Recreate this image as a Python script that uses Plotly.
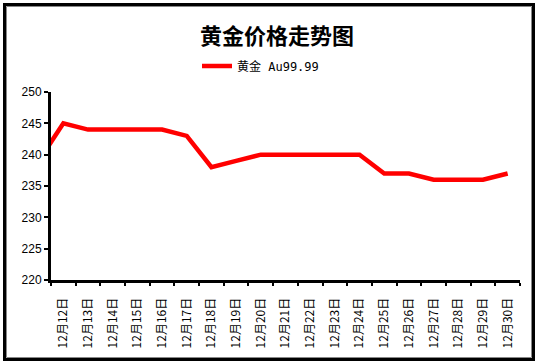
import plotly.graph_objects as go

# ---- data ----
categories = ["12月11日", "12月12日", "12月13日", "12月14日", "12月15日", "12月16日",
              "12月17日", "12月18日", "12月19日", "12月20日", "12月21日", "12月22日",
              "12月23日", "12月24日", "12月25日", "12月26日", "12月27日", "12月28日",
              "12月29日", "12月30日"]
prices = [239, 245, 244, 244, 244, 244, 243, 238, 239, 240, 240, 240, 240, 240,
          237, 237, 236, 236, 236, 237]
shown_labels = categories[1:]
y_ticks = [220, 225, 230, 235, 240, 245, 250]
series_name = "黄金 Au99.99"
title_text = "黄金价格走势图"

W, H = 538, 362
L, R, T, B = 51, 18, 92, 82
pw, ph = W - L - R, H - T - B

def px_x(p):
    return (p - L) / pw

def px_y(p):
    return (H - B - p) / ph

xs = list(range(-1, len(categories) - 1))

fig = go.Figure()
fig.add_trace(go.Scatter(
    x=xs, y=prices, mode="lines", name=series_name,
    line=dict(color="#FF0000", width=4.5), cliponaxis=True,
))

fig.update_layout(
    width=W, height=H,
    margin=dict(l=L, r=R, t=T, b=B, pad=0, autoexpand=False),
    paper_bgcolor="white", plot_bgcolor="white",
    title=dict(text="<b>" + title_text + "</b>", x=277 / W, xanchor="center",
               y=1 - 36 / H, yanchor="middle",
               font=dict(family="Noto Sans CJK SC", size=22, color="black")),
    showlegend=True,
    legend=dict(orientation="h", x=px_x(197), xanchor="left", y=px_y(66), yanchor="middle",
                font=dict(family="DejaVu Sans Mono, Noto Sans CJK SC", size=12, color="black"),
                bgcolor="rgba(0,0,0,0)", borderwidth=0),
    font=dict(family="Noto Sans CJK SC", color="black"),
)

fig.update_xaxes(
    range=[-0.5, len(shown_labels) - 0.5], automargin=False,
    tickmode="array", tickvals=list(range(len(shown_labels))), ticktext=shown_labels,
    tickangle=-90, ticks="outside", ticklen=10, tickcolor="rgba(0,0,0,0)",
    tickfont=dict(family="Noto Sans CJK SC", size=12, color="black"),
    minor=dict(tickmode="linear", tick0=-0.5, dtick=1, ticks="outside", ticklen=3,
               tickwidth=2, tickcolor="black", showgrid=False),
    showline=True, linecolor="black", linewidth=3,
    showgrid=False, zeroline=False, fixedrange=True,
)
fig.update_yaxes(
    range=[220, 250], tickmode="array", tickvals=y_ticks, automargin=False,
    ticks="outside", ticklen=4, tickwidth=2, tickcolor="black",
    tickfont=dict(family="Arial, Liberation Sans", size=12, color="black"),
    showline=True, linecolor="black", linewidth=3,
    showgrid=False, zeroline=False,
)

# outer frame
fig.add_shape(type="rect", xref="paper", yref="paper",
              x0=px_x(4.5), x1=px_x(533.5), y0=px_y(359.5), y1=px_y(4.5),
              line=dict(color="black", width=3), fillcolor="rgba(0,0,0,0)")
fig.add_shape(type="rect", xref="paper", yref="paper",
              x0=px_x(6.5), x1=px_x(531.5), y0=px_y(357.5), y1=px_y(6.5),
              line=dict(color="#888888", width=1), fillcolor="rgba(0,0,0,0)")

fig.write_html("out.html", config={"displayModeBar": False},
               post_script="document.body.style.margin='0';document.body.style.overflow='hidden';")
